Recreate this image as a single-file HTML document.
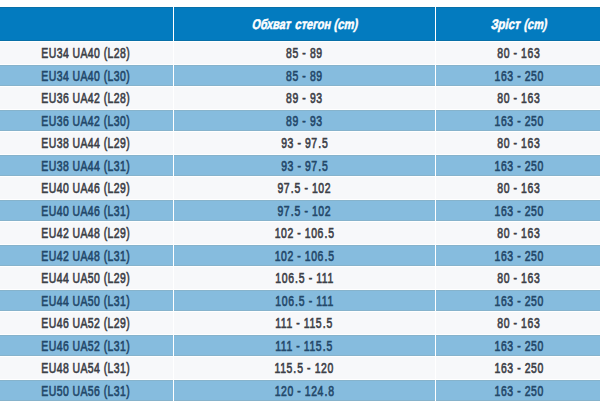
<!DOCTYPE html><html><head><meta charset="utf-8"><style>
html,body{margin:0;padding:0;background:#fff;width:600px;height:406px;overflow:hidden}
.r{position:absolute;left:0;width:600px}
.c{position:absolute;top:0;height:100%;display:flex;align-items:center;justify-content:center}
.c1{left:0;width:173px;padding-right:2px;box-sizing:border-box}
.c2{left:174px;width:261px}
.c3{left:436px;width:164px;padding-left:2px;box-sizing:border-box}
.s{display:inline-block;white-space:nowrap;font-family:"Liberation Sans",sans-serif;font-size:14.5px;line-height:1;font-weight:400;color:#3c4047;word-spacing:0px;letter-spacing:0.6px;-webkit-text-stroke:0.65px #3c4047;transform:translateY(0px) scaleX(0.72)}
.h{background:#037bbf;box-shadow:inset 0 1px 0 #0870a8,inset 0 -1px 0 #0870a8}
.hw{position:absolute;top:17px;white-space:nowrap;font-family:"Liberation Sans",sans-serif;font-size:14px;line-height:1;font-weight:700;font-style:normal;color:#ffffff;-webkit-text-stroke:0.5px #ffffff;transform-origin:0 0}
.o{background:#f7f8fa}
.b{background:#86bcde;box-shadow:inset 0 1px 0 #86b3cc,inset 0 -1px 0 #86b3cc}
.b .s{color:#23486a;-webkit-text-stroke-color:#23486a;transform:translateY(1px) scaleX(0.72)}
.n{letter-spacing:0.8px}
.p{font-style:normal;margin:0 0.6px}
.vl{position:absolute;width:1px;background:#ffffff}
</style></head><body>
<div class="r h" style="top:7px;height:34px"></div>
<span class="hw" style="left:254.3px;transform:skewX(-12deg) scaleX(0.774)">Обхват</span>
<span class="hw" style="left:296.5px;transform:skewX(-12deg) scaleX(0.7944)">стегон</span>
<span class="hw" style="left:336.25px;transform:skewX(-12deg) scaleX(0.81)">(cm)</span>
<span class="hw" style="left:493.1px;transform:skewX(-12deg) scaleX(0.8114)">Зріст</span>
<span class="hw" style="left:526.0px;transform:skewX(-12deg) scaleX(0.78)">(cm)</span>
<div class="r o" style="top:42px;height:22px"><div class="c c1"><span class="s">EU34 UA40 (L28)</span></div><div class="c c2"><span class="s n">85 - 89</span></div><div class="c c3"><span class="s n">80 - 163</span></div></div>
<div class="r b" style="top:65px;height:21px"><div class="c c1"><span class="s">EU34 UA40 (L30)</span></div><div class="c c2"><span class="s n">85 - 89</span></div><div class="c c3"><span class="s n">163 - 250</span></div></div>
<div class="r o" style="top:87px;height:22px"><div class="c c1"><span class="s">EU36 UA42 (L28)</span></div><div class="c c2"><span class="s n">89 - 93</span></div><div class="c c3"><span class="s n">80 - 163</span></div></div>
<div class="r b" style="top:110px;height:21px"><div class="c c1"><span class="s">EU36 UA42 (L30)</span></div><div class="c c2"><span class="s n">89 - 93</span></div><div class="c c3"><span class="s n">163 - 250</span></div></div>
<div class="r o" style="top:132px;height:22px"><div class="c c1"><span class="s">EU38 UA44 (L29)</span></div><div class="c c2"><span class="s n">93 - 97<i class="p">.</i>5</span></div><div class="c c3"><span class="s n">80 - 163</span></div></div>
<div class="r b" style="top:155px;height:21px"><div class="c c1"><span class="s">EU38 UA44 (L31)</span></div><div class="c c2"><span class="s n">93 - 97<i class="p">.</i>5</span></div><div class="c c3"><span class="s n">163 - 250</span></div></div>
<div class="r o" style="top:177px;height:22px"><div class="c c1"><span class="s">EU40 UA46 (L29)</span></div><div class="c c2"><span class="s n">97<i class="p">.</i>5 - 102</span></div><div class="c c3"><span class="s n">80 - 163</span></div></div>
<div class="r b" style="top:200px;height:21px"><div class="c c1"><span class="s">EU40 UA46 (L31)</span></div><div class="c c2"><span class="s n">97<i class="p">.</i>5 - 102</span></div><div class="c c3"><span class="s n">163 - 250</span></div></div>
<div class="r o" style="top:222px;height:22px"><div class="c c1"><span class="s">EU42 UA48 (L29)</span></div><div class="c c2"><span class="s n">102 - 106<i class="p">.</i>5</span></div><div class="c c3"><span class="s n">80 - 163</span></div></div>
<div class="r b" style="top:245px;height:21px"><div class="c c1"><span class="s">EU42 UA48 (L31)</span></div><div class="c c2"><span class="s n">102 - 106<i class="p">.</i>5</span></div><div class="c c3"><span class="s n">163 - 250</span></div></div>
<div class="r o" style="top:267px;height:22px"><div class="c c1"><span class="s">EU44 UA50 (L29)</span></div><div class="c c2"><span class="s n">106<i class="p">.</i>5 - 111</span></div><div class="c c3"><span class="s n">80 - 163</span></div></div>
<div class="r b" style="top:290px;height:21px"><div class="c c1"><span class="s">EU44 UA50 (L31)</span></div><div class="c c2"><span class="s n">106<i class="p">.</i>5 - 111</span></div><div class="c c3"><span class="s n">163 - 250</span></div></div>
<div class="r o" style="top:312px;height:22px"><div class="c c1"><span class="s">EU46 UA52 (L29)</span></div><div class="c c2"><span class="s n">111 - 115<i class="p">.</i>5</span></div><div class="c c3"><span class="s n">80 - 163</span></div></div>
<div class="r b" style="top:335px;height:21px"><div class="c c1"><span class="s">EU46 UA52 (L31)</span></div><div class="c c2"><span class="s n">111 - 115<i class="p">.</i>5</span></div><div class="c c3"><span class="s n">163 - 250</span></div></div>
<div class="r o" style="top:357px;height:22px"><div class="c c1"><span class="s">EU48 UA54 (L31)</span></div><div class="c c2"><span class="s n">115<i class="p">.</i>5 - 120</span></div><div class="c c3"><span class="s n">163 - 250</span></div></div>
<div class="r b" style="top:380px;height:21px"><div class="c c1"><span class="s">EU50 UA56 (L31)</span></div><div class="c c2"><span class="s n">120 - 124<i class="p">.</i>8</span></div><div class="c c3"><span class="s n">163 - 250</span></div></div>
<div class="vl" style="left:173px;top:7px;height:394px"></div>
<div class="vl" style="left:435px;top:7px;height:394px"></div>
</body></html>
